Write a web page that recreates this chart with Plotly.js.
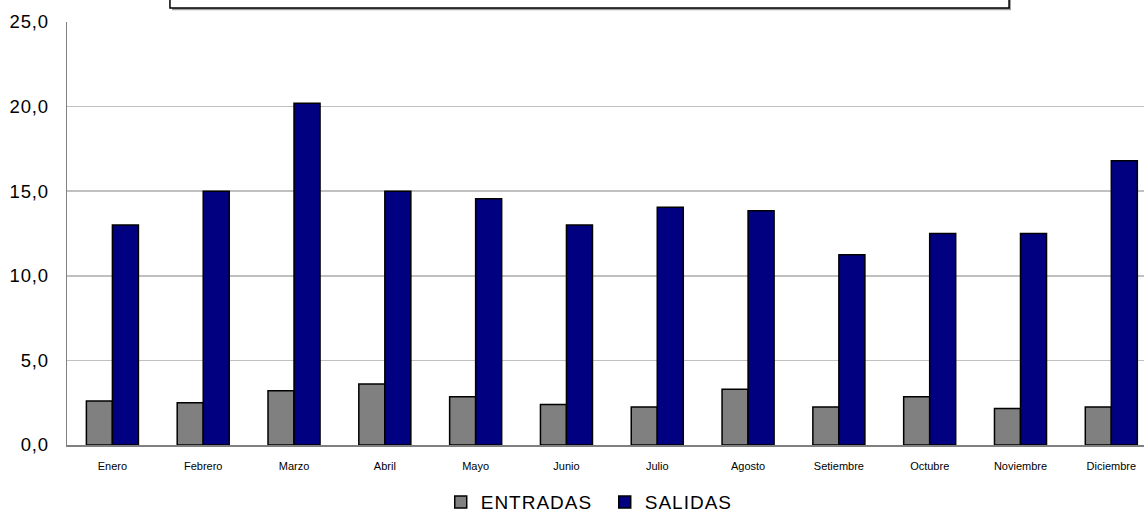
<!DOCTYPE html>
<html>
<head>
<meta charset="utf-8">
<script src="https://cdn.plot.ly/plotly-3.0.1.min.js"></script>
<style>
html,body{margin:0;padding:0;overflow:hidden;background:#fff}
#chart .legendtext{letter-spacing:1px}
#chart .ytick text{letter-spacing:0.8px}
</style>
</head>
<body>
<div id="chart" style="width:1144px;height:515px"></div>
<script>
const months = ['Enero','Febrero','Marzo','Abril','Mayo','Junio','Julio','Agosto','Setiembre','Octubre','Noviembre','Diciembre'];
const entradas = [2.6, 2.5, 3.2, 3.6, 2.85, 2.4, 2.25, 3.3, 2.25, 2.85, 2.15, 2.25];
const salidas = [13.0, 15.0, 20.2, 15.0, 14.55, 13.0, 14.05, 13.85, 11.25, 12.5, 12.5, 16.8];
const yTicks = [0, 5, 10, 15, 20, 25];

const traces = [
  {type:'bar', name:'ENTRADAS', x:months, y:entradas,
   marker:{color:'#808080', line:{color:'#000', width:1.5}}},
  {type:'bar', name:'SALIDAS', x:months, y:salidas,
   marker:{color:'#000080', line:{color:'#000', width:1.5}}}
];

const layout = {
  width:1144, height:515,
  margin:{l:67, r:0, t:22, b:70, autoexpand:false},
  paper_bgcolor:'#fff', plot_bgcolor:'#fff',
  separators:',.',
  barmode:'group', bargap:0.427, bargroupgap:0,
  font:{family:'Liberation Sans, Arial, sans-serif', color:'#000'},
  showlegend:true,
  legend:{orientation:'h', x:0.347, xanchor:'left', y:-0.135, yanchor:'middle',
          font:{size:19}, itemwidth:30, entrywidth:119, entrywidthmode:'pixels',
          traceorder:'normal'},
  xaxis:{type:'category', range:[-0.5, 11.36], showgrid:false, ticks:'',
         showline:true, linecolor:'#808080', linewidth:1.5,
         tickfont:{size:11}, ticklabelstandoff:10, fixedrange:true},
  yaxis:{range:[0,25], tickvals:yTicks, tickformat:'.1f', showgrid:true,
         gridcolor:'#c0c0c0', gridwidth:1.5, showline:true, linecolor:'#808080', linewidth:1.5,
         ticks:'', tickfont:{size:18.5}, ticklabelstandoff:13, zeroline:false, fixedrange:true},
  shapes:[
    {type:'rect', xref:'paper', yref:'paper', x0:0.0975, x1:0.8765, y0:1.028, y1:1.07,
     fillcolor:'#a0a0a0', line:{width:0}},
    {type:'rect', xref:'paper', yref:'paper', x0:0.0956, x1:0.8747, y0:1.033, y1:1.07,
     fillcolor:'#fff', line:{color:'#000', width:1.5}}
  ]
};

Plotly.newPlot('chart', traces, layout, {displayModeBar:false, staticPlot:true});
</script>
</body>
</html>
